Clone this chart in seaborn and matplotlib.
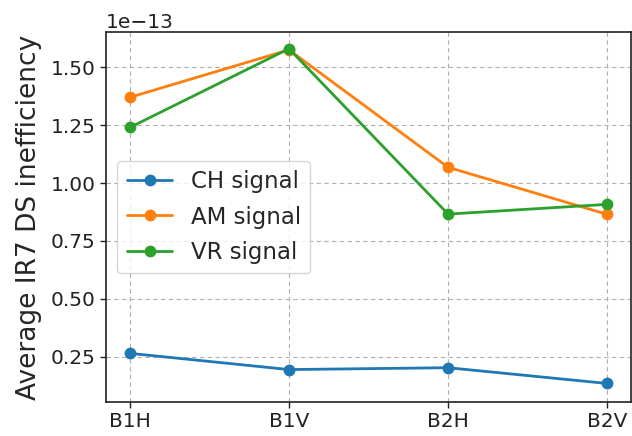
import matplotlib
matplotlib.use("Agg")
import matplotlib.pyplot as plt
import seaborn as sns
import pandas as pd

# Beam/plane configurations on the x axis
configs = ["B1H", "B1V", "B2H", "B2V"]

# Average IR7 dispersion-suppressor inefficiency (units of 1e-13)
ch_signal = [0.265, 0.195, 0.203, 0.135]
am_signal = [1.37, 1.575, 1.068, 0.865]
vr_signal = [1.24, 1.58, 0.866, 0.908]

series = {"CH signal": ch_signal, "AM signal": am_signal, "VR signal": vr_signal}

rows = []
for name, vals in series.items():
    for cfg, v in zip(configs, vals):
        rows.append({"config": cfg, "ineff": v * 1e-13, "signal": name})
df = pd.DataFrame(rows)

sns.set_style("white")
plt.rcParams["font.family"] = ["DejaVu Sans"]

fig = plt.figure(figsize=(6.32, 4.36), dpi=100)
ax = fig.add_axes([106 / 632, 1 - 402 / 436, 525 / 632, 370 / 436])

palette = ["#1f77b4", "#ff7f0e", "#2ca02c"]
sns.lineplot(data=df, x="config", y="ineff", hue="signal", palette=palette,
             marker="o", markersize=8.5, markeredgewidth=0, linewidth=2,
             ax=ax, sort=False)

ax.set_xlabel("")
ax.set_ylabel("Average IR7 DS inefficiency", fontsize=19, labelpad=6)
ax.set_yticks([0.25e-13, 0.5e-13, 0.75e-13, 1.0e-13, 1.25e-13, 1.5e-13])
ax.set_ylim(0.055e-13, 1.652e-13)
ax.tick_params(axis="both", labelsize=14.5, colors="#222222", length=4,
               width=1, direction="out", left=True, bottom=True)
ax.yaxis.get_offset_text().set_fontsize(14.5)
ax.grid(True, linestyle=(0, (4, 3)), color="#b0b0b0", linewidth=0.8)
for s in ax.spines.values():
    s.set_color("#222222")
    s.set_linewidth(1.2)

ax.legend(loc="center left", fontsize=16.5, labelspacing=0.55, frameon=True, title=None)

fig.savefig("out.png", dpi=100)
